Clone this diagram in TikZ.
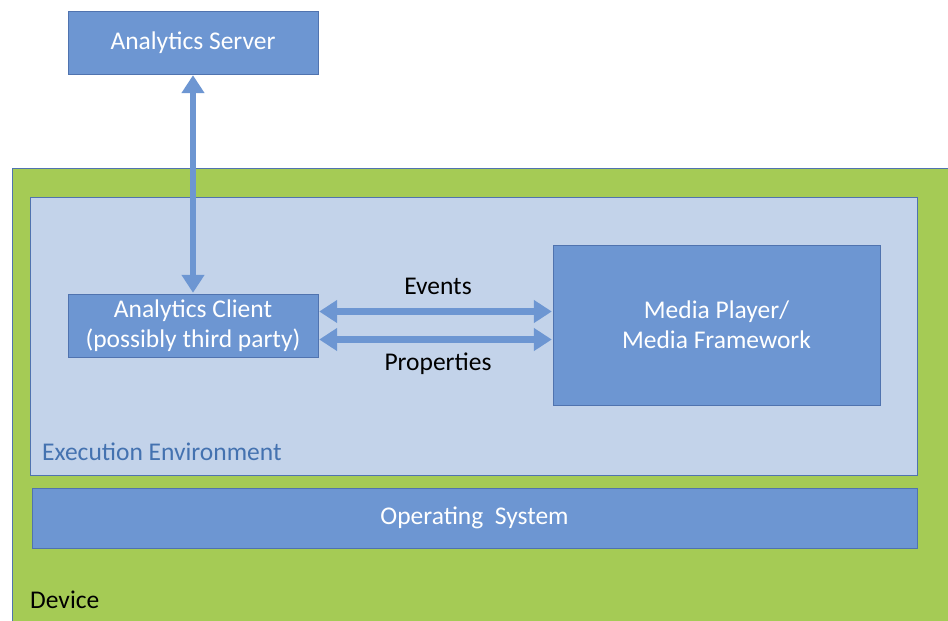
\documentclass[tikz,border=0pt]{standalone}
\usepackage{fontspec}
\setmainfont{Carlito}
\usetikzlibrary{arrows.meta,positioning}
\definecolor{boxblue}{RGB}{109,150,210}
\definecolor{edgeblue}{RGB}{80,115,175}
\definecolor{envblue}{RGB}{195,211,234}
\definecolor{devgreen}{RGB}{165,203,85}
\definecolor{labelblue}{RGB}{68,114,176}
\begin{document}
\begin{tikzpicture}[x=1pt,y=-1pt,
    bluebox/.style={draw=edgeblue,fill=boxblue,text=white,inner sep=0pt,font=\fontsize{25.5}{30}\selectfont,align=center},
    link/.style={boxblue,line width=6.5pt,{Triangle[length=18pt,width=22pt]}-{Triangle[length=18pt,width=22pt]},shorten <=1pt,shorten >=1pt},
    txt/.style={inner sep=0pt,font=\fontsize{25.5}{30}\selectfont}]
\useasboundingbox (0,0) rectangle (948,621);
\fill[white] (0,0) rectangle (948,621);
\begin{scope}
\clip (0,0) rectangle (948,621);
\draw[edgeblue,fill=devgreen] (12,168) rectangle (960,640);
\end{scope}
\draw[edgeblue,fill=envblue] (30,197) rectangle (917,475);
\node[bluebox,minimum width=250pt,minimum height=63pt] (server) at (193,42.5) {Analytics Server};
\node[bluebox,minimum width=250pt,minimum height=63pt] (client) at (193,325.5) {Analytics Client\\(possibly third party)};
\node[bluebox,minimum width=327pt,minimum height=160pt] (media) at (716.5,325) {Media Player/\\Media Framework};
\node[bluebox,minimum width=885pt,minimum height=60pt] (os) at (474.5,518) {Operating~~System};
\node[txt,anchor=west,text=labelblue] (env) at (42,452) {Execution Environment};
\node[txt,anchor=west] (device) at (30,600) {Device};
\draw[link] (server) -- (client);
\draw[link] ([yshift=-14pt]client.east) -- ([yshift=-14pt]client.east -| media.west);
\draw[link] ([yshift=14pt]client.east) -- ([yshift=14pt]client.east -| media.west);
\node[txt] (events) at (438,286) {Events};
\node[txt] (props) at (438,364) {Properties};
\end{tikzpicture}
\end{document}
